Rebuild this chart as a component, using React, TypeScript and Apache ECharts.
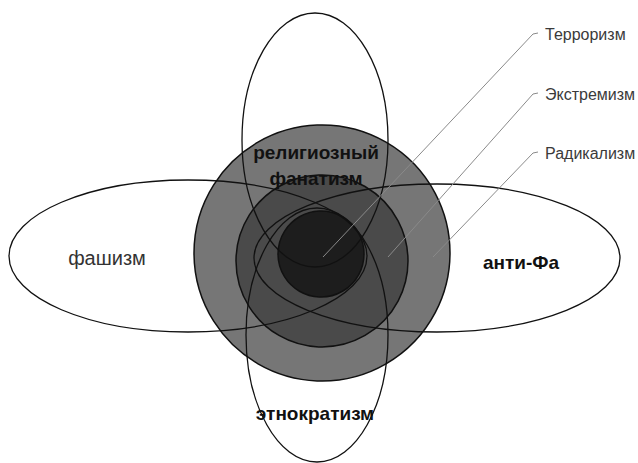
import React, { useEffect, useRef } from "react";
import * as echarts from "echarts";

// Concentric circles (outer → inner)
const circleNames = ["Радикализм", "Экстремизм", "Терроризм"];
const circleCX = [322, 322, 321];
const circleCY = [253, 261, 254];
const circleR = [128, 86, 43];

// Four ellipses (outline only)
const ellipseNames = ["религиозный фанатизм", "этнократизм", "фашизм", "анти-Фа"];
const ellipseCX = [315, 317, 188, 437];
const ellipseCY = [140, 335, 256, 258];
const ellipseRX = [73, 71, 179, 183];
const ellipseRY = [127, 127, 76, 74];

// Region labels
const regionLabels = ["религиозный\nфанатизм", "этнократизм", "фашизм", "анти-Фа"];
const regionX = [316, 315, 107, 521];
const regionY = [165, 413, 258, 262];
const regionBold = [true, true, false, true];

// Leader lines to the circle names
const leaderNames = ["Терроризм", "Экстремизм", "Радикализм"];
const leaderFromX = [323, 388, 433];
const leaderFromY = [257, 257, 257];
const leaderToX = [533, 533, 533];
const leaderToY = [34, 94, 153];

const circleFills = ["#767676", "#4a4a4a", "#1d1d1d"];
const FONT = '"Liberation Sans", Arial, sans-serif';

export default function App() {
  const ref = useRef<HTMLDivElement>(null);
  useEffect(() => {
    if (!ref.current) return;
    const chart = echarts.init(ref.current, undefined, { renderer: "svg" });
    const circleData = circleNames.map((n, i) => ({ name: n, value: [circleCX[i], circleCY[i], circleR[i]] }));
    const ellipseData = ellipseNames.map((n, i) => ({
      name: n,
      value: [ellipseCX[i], ellipseCY[i], ellipseRX[i], ellipseRY[i]],
    }));
    const labelData = regionLabels.map((t, i) => ({ name: t, value: [regionX[i], regionY[i], regionBold[i] ? 1 : 0] }));
    const leaderData = leaderNames.map((n, i) => ({
      name: n,
      value: [leaderFromX[i], leaderFromY[i], leaderToX[i], leaderToY[i]],
    }));

    chart.setOption({
      animation: false,
      backgroundColor: "#ffffff",
      grid: { left: 0, right: 0, top: 0, bottom: 0 },
      xAxis: { type: "value", min: 0, max: 638, show: false },
      yAxis: { type: "value", min: 0, max: 463, inverse: true, show: false },
      series: [
        {
          type: "custom",
          name: "circles",
          z: 1,
          clip: false,
          data: circleData,
          renderItem: (params: any, api: any) => {
            const c = api.coord([api.value(0), api.value(1)]);
            const s = api.size([api.value(2), api.value(2)]);
            return {
              type: "circle",
              shape: { cx: c[0], cy: c[1], r: s[0] },
              style: { fill: circleFills[params.dataIndex], stroke: "#111", lineWidth: 1.5 },
            };
          },
        },
        {
          type: "custom",
          name: "ellipses",
          z: 2,
          clip: false,
          data: ellipseData,
          renderItem: (params: any, api: any) => {
            const c = api.coord([api.value(0), api.value(1)]);
            const s = api.size([api.value(2), api.value(3)]);
            return {
              type: "ellipse",
              shape: { cx: c[0], cy: c[1], rx: s[0], ry: s[1] },
              style: { fill: "none", stroke: "#111", lineWidth: 1.3 },
            };
          },
        },
        {
          type: "custom",
          name: "leaders",
          z: 3,
          clip: false,
          data: leaderData,
          renderItem: (params: any, api: any) => {
            const a = api.coord([api.value(0), api.value(1)]);
            const b = api.coord([api.value(2), api.value(3)]);
            return {
              type: "group",
              children: [
                {
                  type: "polyline",
                  shape: { points: [a, b, [b[0] + 5, b[1] - 1]] },
                  style: { fill: "none", stroke: "#8a8a8a", lineWidth: 1 },
                },
                {
                  type: "text",
                  x: b[0] + 12,
                  y: b[1],
                  style: {
                    text: leaderNames[params.dataIndex],
                    fill: "#3a3a3a",
                    font: `16px ${FONT}`,
                    align: "left",
                    verticalAlign: "middle",
                    textAlign: "left",
                    textVerticalAlign: "middle",
                  },
                },
              ],
            };
          },
        },
        {
          type: "custom",
          name: "labels",
          z: 4,
          clip: false,
          data: labelData,
          renderItem: (params: any, api: any) => {
            const c = api.coord([api.value(0), api.value(1)]);
            const bold = api.value(2) === 1;
            return {
              type: "text",
              x: c[0],
              y: c[1],
              style: {
                text: regionLabels[params.dataIndex],
                fill: bold ? "#111" : "#333",
                font: `${bold ? "bold " : ""}${bold ? 19 : 20}px ${FONT}`,
                lineHeight: 26,
                align: "center",
                verticalAlign: "middle",
                textAlign: "center",
                textVerticalAlign: "middle",
              },
            };
          },
        },
      ],
    });
    return () => chart.dispose();
  }, []);
  return (
    <div
      ref={ref}
      style={{ position: "fixed", left: 0, top: 0, width: 638, height: 463 }}
    />
  );
}
